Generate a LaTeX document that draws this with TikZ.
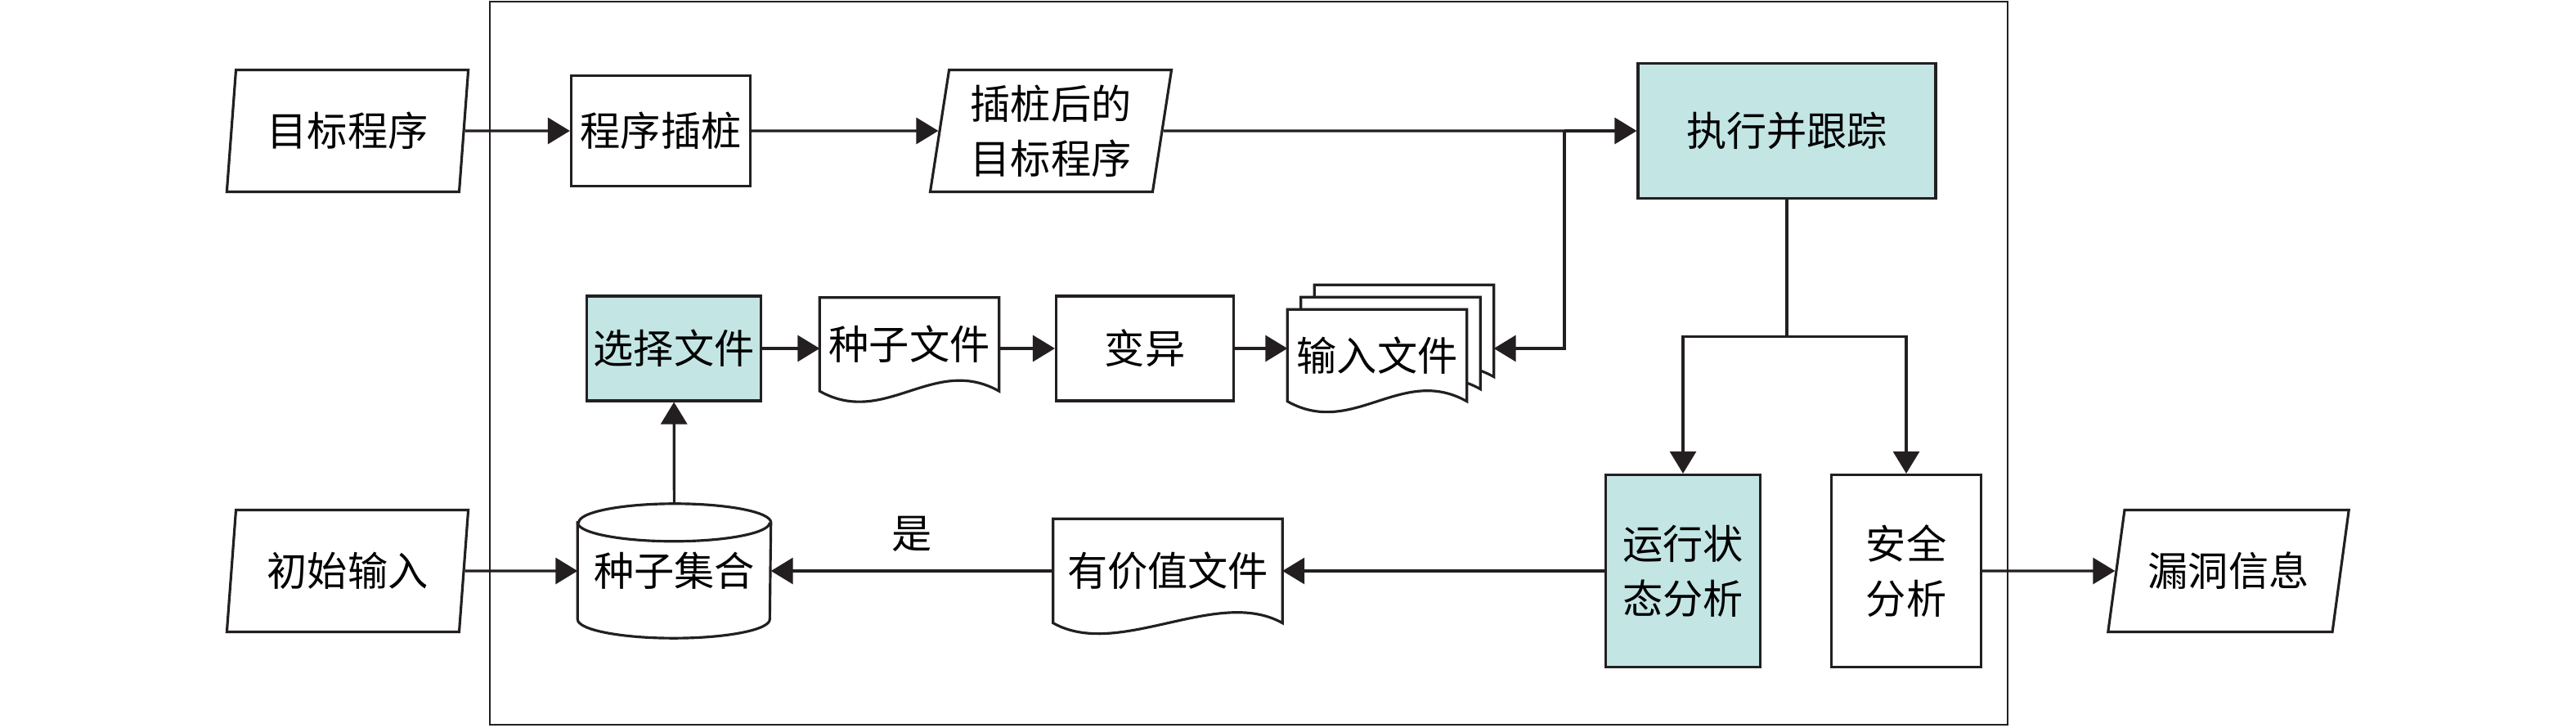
\documentclass[tikz,border=0pt]{standalone}
\usepackage{fontspec}
\setmainfont{Noto Sans CJK SC}
\usepackage{tikz}
\usetikzlibrary{positioning,calc,shapes.geometric,arrows.meta,backgrounds}
\definecolor{flowdark}{HTML}{231F20}
\definecolor{flowteal}{HTML}{C3E6E5}

\begin{document}
\begin{tikzpicture}[
  font=\fontsize{14}{19}\selectfont,
  procbox/.style={draw=flowdark, line width=0.9pt, align=center, inner sep=2pt},
  hlbox/.style={procbox, fill=flowteal},
  iobox/.style={trapezium, trapezium left angle=81, trapezium right angle=99,
    trapezium stretches=true, draw=flowdark, line width=0.9pt,
    minimum width=2.96cm, minimum height=1.49cm, align=center, inner sep=1pt},
  docbox/.style={align=center, inner sep=2pt},
  docline/.style={draw=flowdark, fill=white, line width=0.9pt},
  conn/.style={draw=flowdark, line width=0.9pt},
  arr/.style={conn, -{Triangle[length=0.27cm, width=0.32cm]}},
]
\useasboundingbox (0,0) rectangle (31.5,8.9);
% outer frame
\draw[flowdark, line width=0.7pt] (5.99,0.04) rectangle (24.55,8.88);

% top row
\node[iobox] (tgt) at (4.25,7.3) {目标程序};
\node[procbox, minimum width=2.19cm, minimum height=1.35cm] (instr) at (8.08,7.3) {程序插桩};
\node[iobox] (itgt) at (12.85,7.3) {插桩后的\\目标程序};
\node[hlbox, minimum width=3.64cm, minimum height=1.65cm] (exec) at (21.85,7.3) {执行并跟踪};

% middle row
\node[hlbox, minimum width=2.13cm, minimum height=1.28cm] (sel) at (8.24,4.64) {选择文件};
\node[docbox, minimum width=2.18cm, minimum height=1.13cm] (sf) at (11.12,4.69) {种子文件};
\node[procbox, minimum width=2.17cm, minimum height=1.28cm] (mut) at (14.0,4.64) {变异};
\node[docbox, minimum width=2.18cm, minimum height=1.11cm] (inp) at (16.84,4.555) {输入文件};

% bottom row
\node[iobox] (init) at (4.25,1.92) {初始输入};
\node[docbox, minimum width=2.35cm, minimum height=1.63cm] (pool) at (8.245,1.92) {种子集合};
\node[docbox, minimum width=2.79cm, minimum height=1.26cm] (val) at (14.28,1.92) {有价值文件};
\node[hlbox, minimum width=1.89cm, minimum height=2.35cm] (run) at (20.58,1.92) {运行状\\态分析};
\node[procbox, minimum width=1.83cm, minimum height=2.35cm] (sa) at (23.31,1.92) {安全\\分析};
\node[iobox, trapezium left angle=73, trapezium right angle=107] (vuln) at (27.25,1.92) {漏洞信息};

% document and cylinder outlines
\begin{scope}[on background layer]
  \foreach \dx/\dy in {0.33/0.30, 0.165/0.15, 0/0} {
    \draw[docline, transform canvas={xshift=\dx cm, yshift=\dy cm}]
      (inp.north west) -- (inp.north east) -- (inp.south east)
      .. controls ($(inp.south east)+(-0.8,0.45)$) and ($(inp.south west)+(0.8,-0.45)$) .. (inp.south west) -- cycle;
  }
  \foreach \n in {sf,val} {
    \draw[docline] (\n.north west) -- (\n.north east) -- (\n.south east)
      .. controls ($(\n.south east)+(-0.8,0.45)$) and ($(\n.south west)+(0.8,-0.45)$) .. (\n.south west) -- cycle;
  }
  \draw[docline] ([yshift=-0.23cm]pool.north west) -- ([yshift=0.23cm]pool.south west)
    arc[start angle=180, end angle=360, x radius=1.175cm, y radius=0.23cm]
    -- ([yshift=-0.23cm]pool.north east)
    arc[start angle=0, end angle=180, x radius=1.175cm, y radius=0.23cm] -- cycle;
  \draw[docline, fill=none] ([yshift=-0.23cm]pool.north west)
    arc[start angle=180, end angle=360, x radius=1.175cm, y radius=0.23cm];
\end{scope}

% connectors
\draw[arr] (tgt) -- (instr);
\draw[arr] (instr) -- (itgt);
\coordinate (jn) at (19.13,7.3);
\draw[conn] (itgt.east) -- (jn);
\draw[arr] (jn) -- (exec.west);
\coordinate (inpb) at ($(inp.east)+(0.33,0)$);
\draw[arr] (jn) |- (sel.east -| inpb);
\draw[arr] (sel.east) -- (sel.east -| sf.west);
\draw[arr] (sel.east -| sf.east) -- (mut.west);
\draw[arr] (mut.east) -- (mut.east -| inp.west);
\draw[arr] (pool) -- (sel);
\draw[arr] (init) -- (pool);
\draw[arr] (val) -- node[above=3pt] {是} (pool);
\draw[arr] (run) -- (val);
\draw[conn] (exec.south) -- ++(0,-1.675) coordinate (split);
\draw[arr] (split) -| (run);
\draw[arr] (split) -| (sa);
\draw[arr] (sa) -- (vuln);
\end{tikzpicture}
\end{document}
